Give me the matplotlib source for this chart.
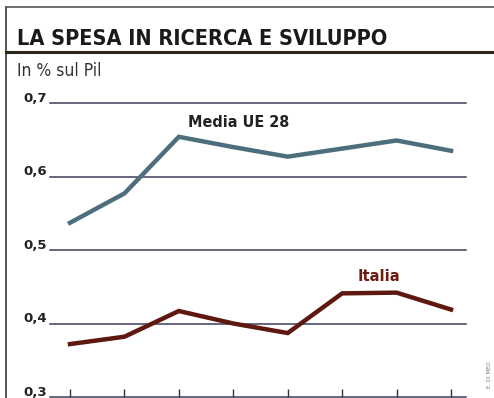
import matplotlib
matplotlib.use("Agg")
import matplotlib.pyplot as plt
from matplotlib.lines import Line2D
from matplotlib import font_manager as fm

# Data
years_idx = [0, 1, 2, 3, 4, 5, 6, 7]
media_ue28 = [0.537, 0.577, 0.654, 0.640, 0.627, 0.638, 0.649, 0.635]
italia = [0.372, 0.382, 0.417, 0.400, 0.387, 0.441, 0.442, 0.419]
yticks = [0.3, 0.4, 0.5, 0.6, 0.7]
ytick_labels = ["0,3", "0,4", "0,5", "0,6", "0,7"]

W, H = 494, 398
fig = plt.figure(figsize=(W / 100, H / 100), dpi=100)
fig.patch.set_facecolor("white")

def fx(px):
    return px / W

def fy(py):
    return 1 - py / H

has_condensed = any(f.name == "DejaVu Sans" and f.stretch == "condensed"
                    for f in fm.fontManager.ttflist)
stretch = "condensed" if has_condensed else "normal"

# Frame lines (title box)
fig.add_artist(Line2D([fx(6), fx(6)], [fy(7), fy(398)], color="#555555", lw=1.4))
fig.add_artist(Line2D([fx(6), fx(494)], [fy(7), fy(7)], color="#555555", lw=1.2))
fig.add_artist(Line2D([fx(6), fx(494)], [fy(52), fy(52)], color="#2b2418", lw=2.2))

title = fig.text(fx(17), fy(45), "LA SPESA IN RICERCA E SVILUPPO",
                 family="DejaVu Sans", fontstretch=stretch,
                 fontsize=24, fontweight="bold", color="#1a1a1a",
                 va="baseline", ha="left")
# fit title width to ~372 px
renderer = fig.canvas.get_renderer()
wpx = title.get_window_extent(renderer).width
title.set_fontsize(24 * 372 / wpx)

fig.text(fx(17), fy(76), "In % sul Pil", family="DejaVu Sans",
         fontstretch=stretch, fontsize=12.5, color="#333333",
         va="baseline", ha="left")
fig.text(fx(489), fy(375), "E. DI MEO", fontsize=4, color="#777777",
         rotation=90, ha="center", va="center")

ax = fig.add_axes([fx(50), fy(397), fx(466) - fx(50), fy(103) - fy(397)])
ax.set_xlim(-0.367, 7.275)
ax.set_ylim(0.3, 0.7)
for s in ax.spines.values():
    s.set_visible(False)

for yv in yticks:
    ax.axhline(yv, color="#3b3d5c", lw=1.1, zorder=1, clip_on=False)

ax.set_yticks([])
for yv, lab in zip(yticks, ytick_labels):
    ax.text(-0.43, yv + 0.002, lab, fontsize=9.5, fontweight="bold",
            color="#222222", ha="right", va="baseline", clip_on=False)
ax.set_xticks(years_idx)
ax.set_xticklabels([])
ax.tick_params(axis="x", direction="in", length=6, width=1, color="#333333")

ax.plot(years_idx, media_ue28, color="#4d6f7d", lw=3.2, zorder=3,
        solid_joinstyle="miter", clip_on=False)
ax.plot(years_idx, italia, color="#5e1810", lw=3.2, zorder=3,
        solid_joinstyle="miter", clip_on=False)

ax.text(3.09, 0.674, "Media UE 28", fontsize=11.5, fontweight="bold",
        fontstretch=stretch, color="#222222", ha="center", va="center")
ax.text(5.67, 0.464, "Italia", fontsize=11.8, fontweight="bold",
        fontstretch=stretch, color="#6b1d10", ha="center", va="center")

fig.savefig("out.png", dpi=100, facecolor="white")
